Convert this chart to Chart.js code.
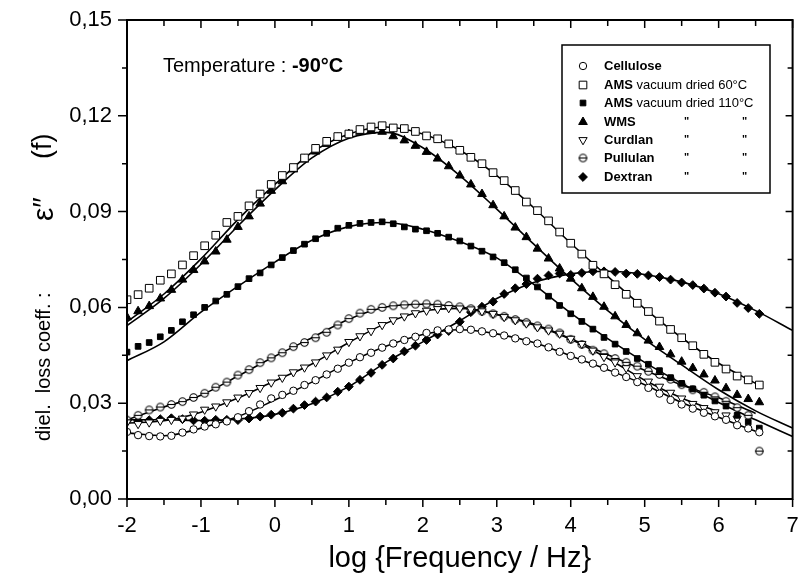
<!DOCTYPE html>
<html>
<head>
<meta charset="utf-8">
<script src="https://cdn.jsdelivr.net/npm/chart.js@4.4.1/dist/chart.umd.min.js"></script>
<style>
  html, body { margin: 0; padding: 0; background: #fff; }
  #wrap { width: 799px; height: 573px; }
</style>
</head>
<body>
<div id="wrap"><canvas id="myChart" width="799" height="573"></canvas></div>
<script>
// log frequency grid of the measured points
const logF = [-2.00,-1.85,-1.70,-1.55,-1.40,-1.25,-1.10,-0.95,-0.80,-0.65,
  -0.50,-0.35,-0.20,-0.05,0.10,0.25,0.40,0.55,0.70,0.85,
  1.00,1.15,1.30,1.45,1.60,1.75,1.90,2.05,2.20,2.35,
  2.50,2.65,2.80,2.95,3.10,3.25,3.40,3.55,3.70,3.85,
  4.00,4.15,4.30,4.45,4.60,4.75,4.90,5.05,5.20,5.35,
  5.50,5.65,5.80,5.95,6.10,6.25,6.40,6.55];

const cellulose = [0.0210,0.0200,0.0197,0.0196,0.0198,0.0208,0.0218,0.0227,0.0234,0.0243,
  0.0256,0.0275,0.0296,0.0315,0.0326,0.0339,0.0357,0.0372,0.0390,0.0408,
  0.0427,0.0444,0.0458,0.0474,0.0487,0.0498,0.0508,0.0520,0.0528,0.0531,
  0.0532,0.0530,0.0525,0.0519,0.0512,0.0503,0.0494,0.0487,0.0475,0.0461,
  0.0448,0.0437,0.0424,0.0411,0.0396,0.0382,0.0366,0.0348,0.0330,0.0310,
  0.0296,0.0283,0.0270,0.0259,0.0248,0.0231,0.0221,0.0209];

const ams60 = [0.0624,0.0640,0.0660,0.0685,0.0705,0.0733,0.0762,0.0793,0.0826,0.0866,
  0.0885,0.0918,0.0955,0.0985,0.1013,0.1038,0.1068,0.1098,0.1120,0.1135,
  0.1143,0.1157,0.1165,0.1169,0.1162,0.1160,0.1151,0.1137,0.1128,0.1112,
  0.1092,0.1070,0.1050,0.1022,0.0997,0.0966,0.0930,0.0903,0.0871,0.0836,
  0.0801,0.0767,0.0732,0.0705,0.0671,0.0641,0.0613,0.0587,0.0557,0.0531,
  0.0505,0.0480,0.0453,0.0428,0.0407,0.0385,0.0373,0.0357];

const ams110 = [0.0460,0.0478,0.0490,0.0508,0.0528,0.0555,0.0577,0.0600,0.0620,0.0641,
  0.0665,0.0690,0.0708,0.0733,0.0756,0.0778,0.0798,0.0815,0.0832,0.0848,
  0.0857,0.0863,0.0866,0.0868,0.0862,0.0852,0.0845,0.0840,0.0832,0.0820,
  0.0808,0.0792,0.0776,0.0758,0.0740,0.0718,0.0692,0.0664,0.0635,0.0606,
  0.0580,0.0556,0.0532,0.0506,0.0485,0.0462,0.0440,0.0422,0.0402,0.0380,
  0.0362,0.0345,0.0325,0.0307,0.0291,0.0262,0.0241,0.0222];

const wms = [0.0569,0.0588,0.0604,0.0628,0.0655,0.0687,0.0717,0.0744,0.0775,0.0812,
  0.0852,0.0885,0.0925,0.0965,0.0995,0.1032,0.1063,0.1088,0.1112,0.1131,
  0.1143,0.1150,0.1153,0.1150,0.1136,0.1123,0.1106,0.1087,0.1066,0.1042,
  0.1013,0.0985,0.0955,0.0920,0.0885,0.0850,0.0820,0.0784,0.0753,0.0722,
  0.0690,0.0660,0.0633,0.0602,0.0572,0.0545,0.0519,0.0496,0.0476,0.0453,
  0.0430,0.0410,0.0390,0.0371,0.0347,0.0326,0.0313,0.0303];

const curdlan = [0.0240,0.0235,0.0240,0.0245,0.0248,0.0252,0.0265,0.0280,0.0290,0.0303,
  0.0318,0.0332,0.0348,0.0365,0.0380,0.0397,0.0412,0.0428,0.0450,0.0468,
  0.0492,0.0510,0.0526,0.0545,0.0560,0.0572,0.0582,0.0590,0.0595,0.0598,
  0.0597,0.0594,0.0588,0.0580,0.0570,0.0560,0.0550,0.0538,0.0528,0.0518,
  0.0502,0.0486,0.0465,0.0445,0.0428,0.0410,0.0385,0.0368,0.0352,0.0333,
  0.0315,0.0298,0.0285,0.0272,0.0262,0.0252,null,null];

const pullulan = [0.0247,0.0262,0.0279,0.0288,0.0296,0.0305,0.0318,0.0331,0.0350,0.0366,
  0.0388,0.0405,0.0427,0.0442,0.0458,0.0477,0.0490,0.0505,0.0522,0.0545,
  0.0565,0.0582,0.0594,0.0600,0.0605,0.0608,0.0610,0.0611,0.0610,0.0606,
  0.0602,0.0596,0.0588,0.0580,0.0572,0.0562,0.0553,0.0542,0.0532,0.0520,
  0.0500,0.0484,0.0466,0.0455,0.0440,0.0428,0.0416,0.0400,0.0390,0.0375,
  0.0358,0.0342,0.0334,0.0320,0.0306,0.0286,0.0262,0.0150];

const dextran = [0.0247,0.0245,0.0247,0.0250,0.0253,0.0250,0.0246,0.0245,0.0248,0.0248,
  0.0247,0.0252,0.0258,0.0264,0.0270,0.0283,0.0294,0.0305,0.0318,0.0336,
  0.0352,0.0373,0.0395,0.0420,0.0440,0.0462,0.0480,0.0498,0.0515,0.0526,
  0.0555,0.0585,0.0602,0.0618,0.0642,0.0660,0.0673,0.0690,0.0700,0.0706,
  0.0702,0.0708,0.0713,0.0713,0.0711,0.0706,0.0705,0.0700,0.0695,0.0687,
  0.0678,0.0670,0.0659,0.0646,0.0634,0.0614,0.0598,0.0580];

// fitted curves (solid lines)
const fitF = [-2,-1.5,-1,-0.5,0,0.5,1,1.5,2,2.5,3,3.5,4,4.5,5,5.5,6,6.5,7];
const celluloseFit = [0.0207,0.0198,0.0222,0.0258,0.0310,0.0366,0.0427,0.0478,0.0515,0.0530,0.0517,0.0490,0.0448,0.0405,0.0358,0.0302,0.0256,0.0212,null];
const ams60Fit = [0.0555,0.0642,0.0752,0.0875,0.0985,0.1085,0.1143,0.1165,0.1143,0.1092,0.1013,0.0912,0.0801,0.0697,0.0596,0.0505,0.0425,0.0362,null];
const ams110Fit = [0.0433,0.0492,0.0585,0.0666,0.0742,0.0810,0.0853,0.0866,0.0845,0.0806,0.0755,0.0672,0.0582,0.0502,0.0428,0.0362,0.0302,0.0248,0.0196];
const wmsFit = [0.0543,0.0628,0.0735,0.0855,0.0968,0.1068,0.1130,0.1148,0.1100,0.1013,0.0908,0.0798,0.0690,0.0590,0.0500,0.0420,0.0342,0.0276,0.0222];
const curdlanFit = [0.0238,0.0245,0.0272,0.0316,0.0370,0.0423,0.0490,0.0550,0.0588,0.0597,0.0578,0.0545,0.0500,0.0440,0.0372,0.0316,0.0273,null,null];
const pullulanFit = [0.0248,0.0288,0.0325,0.0385,0.0447,0.0505,0.0563,0.0601,0.0610,0.0602,0.0578,0.0548,0.0502,0.0452,0.0403,0.0357,0.0317,0.0268,null];
const dextranFit = [0.0248,0.0248,0.0246,0.0250,0.0265,0.0298,0.0352,0.0428,0.0492,0.0558,0.0628,0.0678,0.0705,0.0713,0.0703,0.0680,0.0643,0.0590,0.0528];

const seriesNames = ['Cellulose', 'AMS vacuum dried 60°C', 'AMS vacuum dried 110°C', 'WMS', 'Curdlan', 'Pullulan', 'Dextran'];
const xTicks = { min: -2, max: 7, step: 1 };
const yTicks = { min: 0, max: 0.15, step: 0.03 };

const FONT = "'Liberation Sans', Arial, Helvetica, sans-serif";

// circle with a bar through it for Pullulan
const pullulanMark = document.createElement('canvas');
pullulanMark.width = 11; pullulanMark.height = 11;
(function () {
  const c = pullulanMark.getContext('2d');
  c.fillStyle = '#fff'; c.strokeStyle = '#000'; c.lineWidth = 1.1;
  c.beginPath(); c.arc(5.5, 5.5, 3.7, 0, Math.PI * 2); c.fill(); c.stroke();
  c.beginPath(); c.moveTo(1.3, 5.5); c.lineTo(9.7, 5.5); c.stroke();
})();

const markers = [
  { pointStyle: 'circle', radius: 3.7, fill: '#fff' },
  { pointStyle: 'rect', radius: 5.4, fill: '#fff' },
  { pointStyle: 'rect', radius: 4.0, fill: '#000' },
  { pointStyle: 'triangle', radius: 5.0, fill: '#000', rotation: 0 },
  { pointStyle: 'triangle', radius: 4.8, fill: '#fff', rotation: 180 },
  { pointStyle: pullulanMark, radius: 4, fill: '#fff' },
  { pointStyle: 'rectRot', radius: 4.4, fill: '#000' }
];

function toPoints(xs, ys) {
  const pts = [];
  xs.forEach((x, i) => { if (ys[i] !== null) pts.push({ x: x, y: ys[i] }); });
  return pts;
}

const measured = [cellulose, ams60, ams110, wms, curdlan, pullulan, dextran];
const fits = [celluloseFit, ams60Fit, ams110Fit, wmsFit, curdlanFit, pullulanFit, dextranFit];

const datasets = [];
fits.forEach((f, i) => {
  datasets.push({
    label: seriesNames[i] + ' fit',
    data: toPoints(fitF, f),
    showLine: true,
    borderColor: '#000',
    borderWidth: 1.6,
    pointRadius: 0,
    cubicInterpolationMode: 'monotone',
    order: 2
  });
});
measured.forEach((m, i) => {
  const mk = markers[i];
  datasets.push({
    label: seriesNames[i],
    data: toPoints(logF, m),
    showLine: false,
    pointStyle: mk.pointStyle,
    pointRadius: mk.radius,
    pointRotation: mk.rotation || 0,
    pointBackgroundColor: mk.fill,
    pointBorderColor: '#000',
    pointBorderWidth: 1,
    order: 1
  });
});

function drawMark(ctx, mk, x, y) {
  ctx.save();
  ctx.fillStyle = mk.fill; ctx.strokeStyle = '#000'; ctx.lineWidth = 1;
  if (Chart.helpers && Chart.helpers.drawPoint) {
    Chart.helpers.drawPoint(ctx, { pointStyle: mk.pointStyle, radius: mk.radius, rotation: mk.rotation || 0, borderWidth: 1 }, x, y);
  }
  ctx.restore();
}

const decor = {
  id: 'decor',
  afterDraw(chart) {
    const { ctx, chartArea: a, scales } = chart;
    const sx = scales.x, sy = scales.y;
    ctx.save();
    ctx.strokeStyle = '#000';
    ctx.lineWidth = 2;
    ctx.strokeRect(a.left, a.top, a.right - a.left, a.bottom - a.top);

    // major and minor ticks on all four sides
    ctx.lineWidth = 1.5;
    ctx.beginPath();
    for (let v = xTicks.min; v <= xTicks.max + 1e-9; v += xTicks.step / 2) {
      const px = sx.getPixelForValue(v);
      const major = Math.abs(v - Math.round(v)) < 1e-6;
      ctx.moveTo(px, a.bottom); ctx.lineTo(px, a.bottom + (major ? 8 : 6));
      ctx.moveTo(px, a.top); ctx.lineTo(px, a.top + (major ? 8 : 6));
    }
    for (let k = 0; k <= 10; k++) {
      const v = yTicks.min + k * yTicks.step / 2;
      const py = sy.getPixelForValue(v);
      const major = k % 2 === 0;
      ctx.moveTo(a.left, py); ctx.lineTo(a.left - (major ? 9 : 5), py);
      ctx.moveTo(a.right, py); ctx.lineTo(a.right - (major ? 7 : 5), py);
    }
    ctx.stroke();

    // temperature note
    ctx.fillStyle = '#000';
    ctx.textBaseline = 'middle';
    ctx.textAlign = 'left';
    ctx.font = '20px ' + FONT;
    const t1 = 'Temperature : ';
    ctx.fillText(t1, 163, 66);
    const w1 = ctx.measureText(t1).width;
    ctx.font = 'bold 20px ' + FONT;
    ctx.fillText('-90°C', 163 + w1, 66);

    // legend box
    ctx.lineWidth = 1.5;
    ctx.strokeRect(562, 45, 208, 148);
    const rows = [66, 85, 103, 122, 140, 158, 177];
    seriesNames.forEach((name, i) => {
      const y = rows[i];
      drawMark(ctx, markers[i], 583, y);
      const sp = name.indexOf(' ');
      const head = sp < 0 ? name : name.slice(0, sp);
      const rest = sp < 0 ? '' : name.slice(sp);
      ctx.fillStyle = '#000';
      ctx.font = 'bold 13px ' + FONT;
      ctx.fillText(head, 604, y);
      if (rest) {
        const hw = ctx.measureText(head).width;
        ctx.font = '13px ' + FONT;
        ctx.fillText(rest, 604 + hw, y);
      } else if (i > 2) {
        ctx.font = 'bold 11px ' + FONT;
        ctx.fillText('"', 684, y);
        ctx.fillText('"', 742, y);
      }
    });

    // x axis title
    ctx.textAlign = 'center';
    ctx.font = '29px ' + FONT;
    ctx.fillText('log {Frequency / Hz}', (a.left + a.right) / 2, 559);

    // y axis title (rotated)
    ctx.translate(44, 441);
    ctx.rotate(-Math.PI / 2);
    ctx.textAlign = 'left';
    ctx.font = '20px ' + FONT;
    ctx.fillText('diel.  loss coeff. :', 0, 0);
    ctx.font = '30px ' + FONT;
    ctx.fillText('ε\u2033', 220, 1);
    ctx.font = '27px ' + FONT;
    ctx.fillText('(f)', 282, 0);
    ctx.restore();
  }
};

new Chart(document.getElementById('myChart'), {
  type: 'scatter',
  data: { datasets: datasets },
  options: {
    responsive: false,
    animation: false,
    layout: { padding: { left: 0, right: 2, top: 20, bottom: 0 } },
    plugins: { legend: { display: false }, tooltip: { enabled: false } },
    scales: {
      x: {
        type: 'linear',
        min: xTicks.min, max: xTicks.max,
        grid: { display: false, drawTicks: false },
        border: { display: false },
        ticks: {
          stepSize: xTicks.step, color: '#000', padding: 14,
          font: { size: 22, family: FONT },
          callback: v => String(v)
        },
        afterFit(s) { s.height = 74; s.paddingLeft = 0; s.paddingRight = 0; }
      },
      y: {
        type: 'linear',
        min: yTicks.min, max: yTicks.max,
        grid: { display: false, drawTicks: false },
        border: { display: false },
        ticks: {
          stepSize: yTicks.step, color: '#000', padding: 15,
          font: { size: 22, family: FONT },
          callback: v => v.toFixed(2).replace('.', ',')
        },
        afterFit(s) { s.width = 127; s.paddingTop = 0; s.paddingBottom = 0; }
      }
    }
  },
  plugins: [decor]
});
</script>
</body>
</html>
